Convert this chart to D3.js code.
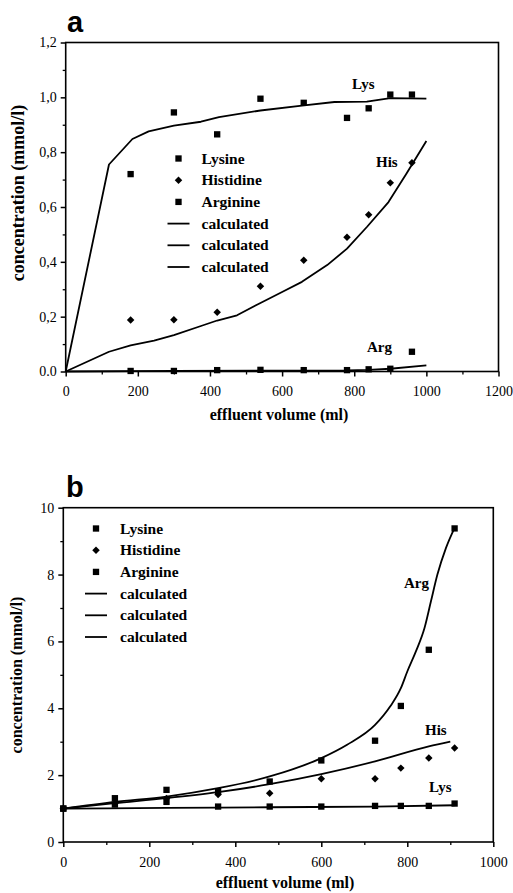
<!DOCTYPE html>
<html><head><meta charset="utf-8">
<script src="https://cdn.jsdelivr.net/npm/d3@7"></script>
<style>body{margin:0;background:#fff}</style>
</head><body><svg id="c" width="513" height="893" xmlns="http://www.w3.org/2000/svg"></svg>
<script>
// ---------- Panel a data ----------
const aVolume    = [180, 300, 420, 540, 660, 780, 840, 900, 960];
const aLysine    = [0.72, 0.945, 0.865, 0.995, 0.98, 0.925, 0.96, 1.01, 1.01];
const aHistidine = [0.188, 0.189, 0.216, 0.311, 0.406, 0.49, 0.572, 0.688, 0.761];
const aArginine  = [0.002, 0.002, 0.005, 0.006, 0.005, 0.005, 0.008, 0.01, 0.072];
const aCalcLysVol = [0, 120, 185, 230, 300, 375, 425, 540, 655, 745, 835, 900, 1000];
const aCalcLys    = [0, 0.755, 0.848, 0.876, 0.897, 0.911, 0.928, 0.952, 0.97, 0.983, 0.984, 0.997, 0.995];
const aCalcHisVol = [0, 120, 180, 245, 300, 375, 420, 475, 540, 600, 655, 725, 780, 835, 895, 945, 1000];
const aCalcHis    = [0, 0.072, 0.095, 0.113, 0.133, 0.166, 0.186, 0.205, 0.25, 0.29, 0.327, 0.388, 0.448, 0.527, 0.618, 0.722, 0.841];
const aCalcArgVol = [0, 300, 540, 780, 840, 900, 1000];
const aCalcArg    = [0, 0.002, 0.003, 0.004, 0.006, 0.01, 0.022];
const aXTicks = [0, 200, 400, 600, 800, 1000, 1200];
const aYTicks = [0, 0.2, 0.4, 0.6, 0.8, 1.0, 1.2];
const aYTickLabels = ["0.0", "0,2", "0,4", "0,6", "0,8", "1,0", "1,2"];

// ---------- Panel b data ----------
const bVolume    = [0, 120, 240, 360, 480, 600, 725, 785, 850, 910];
const bLysine    = [1.0, 1.12, 1.2, 1.06, 1.06, 1.06, 1.08, 1.08, 1.08, 1.15];
const bHistidine = [1.0, 1.15, 1.3, 1.42, 1.46, 1.89, 1.89, 2.21, 2.51, 2.81];
const bArginine  = [1.0, 1.31, 1.56, 1.52, 1.81, 2.44, 3.03, 4.07, 5.75, 9.38];
const bCalcLysVol = [0, 240, 480, 725, 910];
const bCalcLys    = [1.0, 1.02, 1.04, 1.06, 1.1];
const bCalcHisVol = [0, 120, 240, 360, 480, 600, 725, 850, 900];
const bCalcHis    = [1.0, 1.16, 1.31, 1.49, 1.73, 2.03, 2.41, 2.86, 3.0];
const bCalcArgVol = [0, 120, 240, 360, 480, 600, 660, 725, 760, 785, 800, 820, 840, 855, 870, 890, 910];
const bCalcArg    = [1.0, 1.2, 1.36, 1.61, 1.96, 2.51, 2.91, 3.5, 4.05, 4.6, 5.1, 5.7, 6.4, 7.2, 8.0, 8.8, 9.4];
const bXTicks = [0, 200, 400, 600, 800, 1000];
const bYTicks = [0, 2, 4, 6, 8, 10];
const bYTickLabels = ["0", "2", "4", "6", "8", "10"];

const legendNames = ["Lysine", "Histidine", "Arginine", "calculated", "calculated", "calculated"];
const legendKinds = ["square", "diamond", "square", "line", "line", "line"];

const svg = d3.select("#c");
const SERIF = "'Liberation Serif','Times New Roman',serif";

function zip(xs, ys){ return xs.map((x,i)=>[x, ys[i]]); }

function panel(cfg){
  const g = svg.append("g");
  const x = d3.scaleLinear().domain(cfg.xDomain).range(cfg.xRange);
  const y = d3.scaleLinear().domain(cfg.yDomain).range(cfg.yRange);

  // frame
  g.append("rect").attr("x", cfg.xRange[0]).attr("y", cfg.yRange[1])
    .attr("width", cfg.xRange[1]-cfg.xRange[0]).attr("height", cfg.yRange[0]-cfg.yRange[1])
    .attr("fill","none").attr("stroke","#000").attr("stroke-width",1.6);

  // minor ticks
  const xm = g.append("g").attr("transform",`translate(0,${cfg.yRange[0]})`)
    .call(d3.axisBottom(x).tickValues(cfg.xMinor).tickSize(3).tickFormat(""));
  const ym = g.append("g").attr("transform",`translate(${cfg.xRange[0]},0)`)
    .call(d3.axisLeft(y).tickValues(cfg.yMinor).tickSize(3).tickFormat(""));
  [xm, ym].forEach(a=>{ a.select(".domain").remove(); a.selectAll("line").attr("stroke-width",1.3); });

  // major ticks
  const xa = g.append("g").attr("transform",`translate(0,${cfg.yRange[0]})`)
    .call(d3.axisBottom(x).tickValues(cfg.xTicks).tickSize(5).tickPadding(10).tickFormat(d3.format("d")));
  const ya = g.append("g").attr("transform",`translate(${cfg.xRange[0]},0)`)
    .call(d3.axisLeft(y).tickValues(cfg.yTicks).tickSize(5).tickPadding(4)
      .tickFormat((d,i)=>cfg.yTickLabels[i]));
  [xa, ya].forEach(a=>{
    a.attr("font-family",SERIF).attr("font-size",14);
    a.select(".domain").remove();
    a.selectAll("line").attr("stroke-width",1.5);
    a.selectAll("text").attr("font-family",SERIF).attr("font-size",14).attr("fill","#000");
  });

  // axis titles
  g.append("text").attr("x", cfg.xTitleX).attr("y", cfg.xTitleY).attr("text-anchor","middle")
    .attr("font-family",SERIF).attr("font-weight","bold").attr("font-size",16).text("effluent volume (ml)");
  g.append("text").attr("transform",`translate(${cfg.yTitleX},${cfg.yTitleY}) rotate(-90)`)
    .attr("text-anchor","middle").attr("font-family",SERIF).attr("font-weight","bold")
    .attr("font-size",cfg.yTitleSize).text("concentration (mmol/l)");

  // panel letter
  g.append("text").attr("x", cfg.letterX).attr("y", cfg.letterY)
    .attr("font-family","'Liberation Sans',Arial,sans-serif").attr("font-weight","bold")
    .attr("font-size",29).text(cfg.letter);

  // calculated lines
  const line = d3.line().x(d=>x(d[0])).y(d=>y(d[1])).curve(cfg.curve);
  cfg.calc.forEach(c=>{
    g.append("path").attr("d", line(zip(c[0], c[1])))
      .attr("fill","none").attr("stroke","#000").attr("stroke-width",1.8).attr("stroke-linejoin","round");
  });

  // markers
  const sq = d3.symbol().type(d3.symbolSquare).size(40);
  const di = d3.symbol().type(d3.symbolSquare).size(28);
  const draw = (xs, ys, sym, rot) => {
    g.selectAll(null).data(zip(xs, ys)).enter().append("path")
      .attr("d", sym).attr("transform", d=>`translate(${x(d[0])},${y(d[1])}) rotate(${rot})`).attr("fill","#000");
  };
  draw(cfg.vol, cfg.lys, sq, 0);
  draw(cfg.vol, cfg.his, di, 45);
  draw(cfg.vol, cfg.arg, sq, 0);

  // series labels
  cfg.labels.forEach(l=>{
    g.append("text").attr("x", l.x).attr("y", l.y).attr("font-family",SERIF)
      .attr("font-weight","bold").attr("font-size",15).text(l.t);
  });

  // legend
  legendNames.forEach((n,i)=>{
    const cy = cfg.legY + i*cfg.legStep;
    const k = legendKinds[i];
    if(k==="line"){
      g.append("line").attr("x1", cfg.legMX-11).attr("x2", cfg.legMX+11).attr("y1", cy).attr("y2", cy)
        .attr("stroke","#000").attr("stroke-width",1.8);
    } else {
      g.append("path").attr("d", k==="square" ? sq() : di())
        .attr("transform",`translate(${cfg.legMX},${cy}) rotate(${k==="square"?0:45})`).attr("fill","#000");
    }
    g.append("text").attr("x", cfg.legTX).attr("y", cy+5).attr("font-family",SERIF)
      .attr("font-weight","bold").attr("font-size",15.5).text(n);
  });
}

const range = (a,b,s)=>d3.range(a,b+1e-9,s);

panel({
  letter:"a", letterX:67, letterY:32,
  xDomain:[0,1200], xRange:[65.7,498.5], yDomain:[0,1.2], yRange:[371.5,42.5],
  xTicks:aXTicks, yTicks:aYTicks, yTickLabels:aYTickLabels,
  xMinor:range(100,1100,200), yMinor:range(0.1,1.1,0.2),
  xTitleX:279, xTitleY:420, yTitleX:24, yTitleY:193, yTitleSize:18,
  curve:d3.curveLinear,
  vol:aVolume, lys:aLysine, his:aHistidine, arg:aArginine,
  calc:[[aCalcLysVol,aCalcLys],[aCalcHisVol,aCalcHis],[aCalcArgVol,aCalcArg]],
  labels:[{t:"Lys",x:352,y:89},{t:"His",x:376,y:167},{t:"Arg",x:367,y:352}],
  legMX:178.5, legTX:201.5, legY:158.5, legStep:21.7
});

panel({
  letter:"b", letterX:66, letterY:497,
  xDomain:[0,1000], xRange:[63.3,493.3], yDomain:[0,10], yRange:[842,507.7],
  xTicks:bXTicks, yTicks:bYTicks, yTickLabels:bYTickLabels,
  xMinor:range(100,900,200), yMinor:range(1,9,2),
  xTitleX:285, xTitleY:888, yTitleX:22, yTitleY:675, yTitleSize:16,
  curve:d3.curveMonotoneX,
  vol:bVolume, lys:bLysine, his:bHistidine, arg:bArginine,
  calc:[[bCalcLysVol,bCalcLys],[bCalcHisVol,bCalcHis],[bCalcArgVol,bCalcArg]],
  labels:[{t:"Arg",x:404,y:588},{t:"His",x:425,y:735},{t:"Lys",x:429,y:792}],
  legMX:96, legTX:120, legY:528.5, legStep:21.7
});
</script>
</body></html>
